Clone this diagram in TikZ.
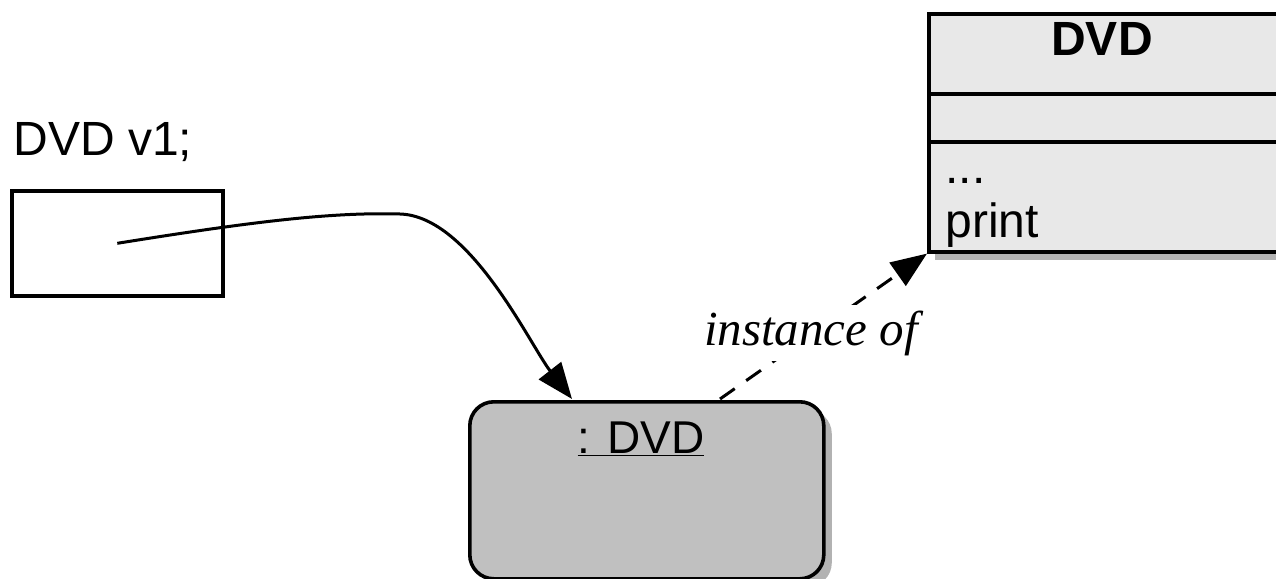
\documentclass[tikz,border=0pt]{standalone}
\usepackage{fontspec}
\setmainfont{Liberation Sans}
\newfontfamily\serifit{Liberation Serif}
\usetikzlibrary{arrows.meta,shadows}
\definecolor{classfill}{HTML}{E8E8E8}
\definecolor{objfill}{HTML}{C0C0C0}
\begin{document}
\begin{tikzpicture}[x=0.5pt,y=-0.5pt,
  txt/.style={font=\fontsize{24}{28}\selectfont, inner sep=0pt},
  varbox/.style={draw, line width=1.8pt, inner sep=0pt},
  classbox/.style={draw, line width=1.8pt, fill=classfill, inner sep=0pt,
    drop shadow={shadow xshift=3pt, shadow yshift=-4pt, fill=black, opacity=0.3}},
  objbox/.style={draw, line width=1.8pt, fill=objfill, rounded corners=12pt, inner sep=0pt,
    drop shadow={shadow xshift=4pt, shadow yshift=-4pt, fill=black, opacity=0.3}},
  conn/.style={line width=1.5pt, -{Triangle[length=18pt,width=14pt]}},
  dashconn/.style={conn, dash pattern=on 9pt off 7pt}
]
\useasboundingbox (0,0) rectangle (1276,579);

% class box
\node[classbox, anchor=north west, minimum width=185pt, minimum height=119pt] (cls) at (927,12) {};
\draw[line width=1.8pt] (927,94) -- (1300,94);
\draw[line width=1.8pt] (927,142) -- (1300,142);
\node[txt, font=\fontsize{24}{28}\selectfont\bfseries] (clsname) at (1102,39) {DVD};
\node[txt, anchor=base west] (dots) at (945,183) {...};
\node[txt, anchor=base west] (print) at (945,237) {print};

% variable
\node[txt, anchor=base west] (decl) at (13,155) {DVD v1;};
\node[varbox, anchor=north west, minimum width=105.5pt, minimum height=52.5pt] (var) at (10,189) {};

% object
\node[objbox, anchor=north west, minimum width=177pt, minimum height=88.5pt] (obj) at (468,400) {};
\node[txt, anchor=base, font=\fontsize{23}{27}\selectfont] (objname) at (641,453) {\underline{: DVD}};

% connectors
\coordinate (t1) at (572,399);
\draw[conn] (var.center) .. controls (250,222) and (330,212) .. (400,214)
  .. controls (470,216) and (530,345) .. (t1);

\coordinate (s2) at (720,399);
\draw[dashconn] (s2) -- (cls.south west);
\node[fill=white, inner sep=3pt, font=\serifit\itshape\fontsize{24.5}{28}\selectfont] (inst) at (811,333) {instance of};
\end{tikzpicture}
\end{document}
